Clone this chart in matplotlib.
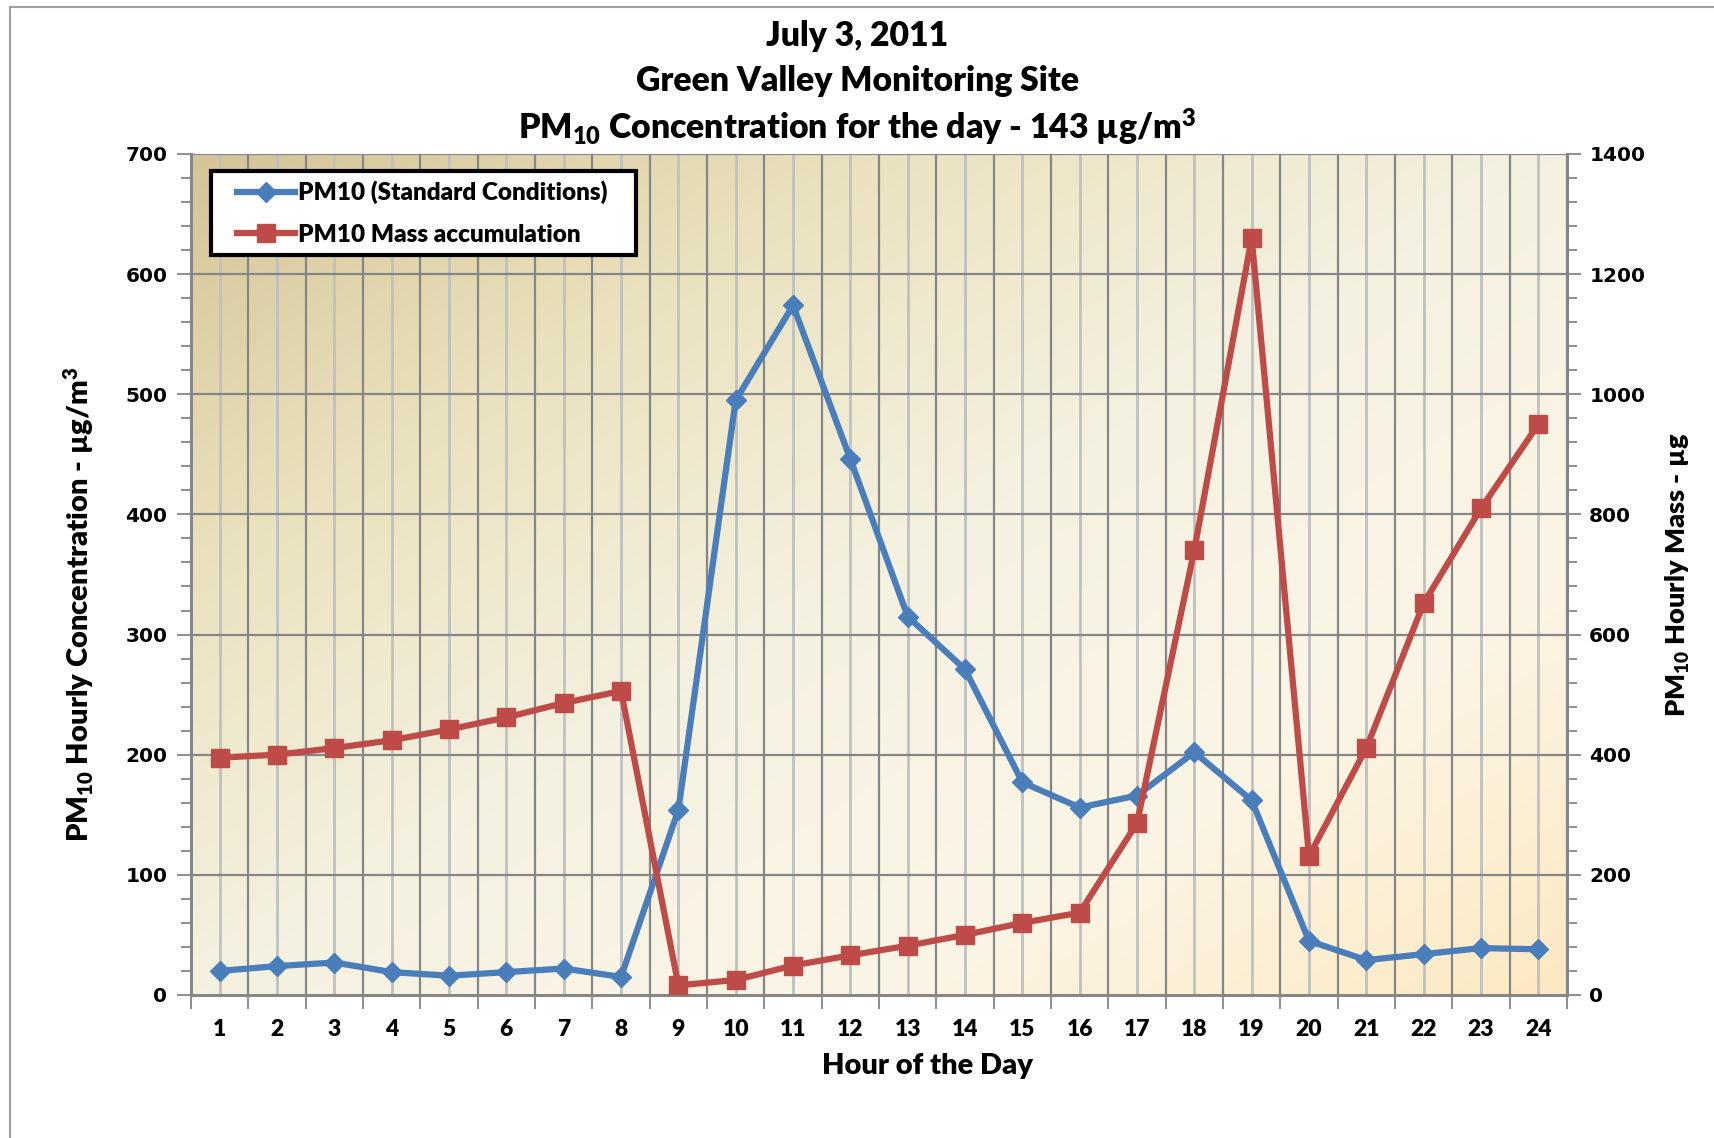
import numpy as np
import matplotlib
matplotlib.use('Agg')
import matplotlib.pyplot as plt
from matplotlib.lines import Line2D
from matplotlib.patches import Rectangle
from matplotlib.legend_handler import HandlerLine2D
from matplotlib.ticker import MultipleLocator, FixedLocator, NullFormatter

hours = list(range(1, 25))
pm10_std = [20, 24, 27, 19, 16, 19, 22, 15, 154, 495, 574, 446, 315, 271,
            177, 156, 166, 202, 162, 45, 29, 34, 39, 38]
pm10_mass = [395, 400, 411, 424, 442, 462, 486, 506, 16, 25, 49, 66, 82, 100,
             120, 137, 286, 741, 1260, 231, 411, 652, 810, 950]

title_lines = ['July 3, 2011', 'Green Valley Monitoring Site',
               'PM$_{10}$ Concentration for the day - 143 µg/m$^{3}$']
series_names = ['PM10 (Standard Conditions)', 'PM10 Mass accumulation']

BLUE = '#4a7ebb'
RED = '#be4b48'
DARK = '#868686'
LIGHT = '#c0c0c0'
W = 'heavy'

plt.rcParams['font.family'] = ['Lato', 'DejaVu Sans']
plt.rcParams['mathtext.fontset'] = 'custom'
plt.rcParams['mathtext.rm'] = 'Lato:heavy'
plt.rcParams['mathtext.it'] = 'Lato:heavy'
plt.rcParams['mathtext.bf'] = 'Lato:heavy'
plt.rcParams['mathtext.default'] = 'rm'

fig = plt.figure(figsize=(17.15, 11.38), dpi=100)
fig.add_artist(Rectangle((10/1715, -0.5), 2, 1.5 - 7/1138, transform=fig.transFigure,
                         fill=False, edgecolor='#a0a0a0', lw=1.5))
ax = fig.add_axes([0.1114, 0.1257, 0.8023, 0.739])
ax2 = ax.twinx()

# gradient background
n = 200
gx, gy = np.meshgrid(np.linspace(0, 1, n), np.linspace(1, 0, n))
t = (gx + (1 - gy)) / 2
stops = [0, 0.25, 0.5, 0.75, 1]
cols = np.array([[212, 196, 150], [234, 226, 190], [245, 241, 225],
                 [251, 245, 230], [253, 233, 193]]) / 255
img = np.dstack([np.interp(t, stops, cols[:, k]) for k in range(3)])
ax.imshow(img, extent=[0.5, 24.5, 0, 700], aspect='auto', zorder=0,
          interpolation='bilinear')

ax.set_xlim(0.5, 24.5)
ax.set_ylim(0, 700)
ax2.set_ylim(0, 1400)

# grid
for x in np.arange(0.5, 25, 1):
    ax.axvline(x, color=DARK, lw=1.6, zorder=1)
for x in hours:
    ax.axvline(x, color=LIGHT, lw=2, zorder=1)
for y in range(100, 701, 100):
    ax.axhline(y, color=DARK, lw=1.6, zorder=1)

ax.plot(hours, pm10_std, color=BLUE, lw=4.5, marker='D', ms=10.5, zorder=3)
ax2.plot(hours, pm10_mass, color=RED, lw=4.5, marker='s', ms=13.5, zorder=3)

# ticks
ax.xaxis.set_major_locator(FixedLocator(np.arange(0.5, 25, 1)))
ax.xaxis.set_major_formatter(NullFormatter())
ax.tick_params(axis='x', which='major', direction='out', length=10, width=1.3, color=DARK)
for h in hours:
    ax.text(h, -0.041, str(h), transform=ax.get_xaxis_transform(), ha='center',
            va='center', fontsize=16.5, fontweight=W)

ax.yaxis.set_major_locator(MultipleLocator(100))
ax.yaxis.set_minor_locator(MultipleLocator(20))
ax.tick_params(axis='y', which='major', direction='out', length=10, width=1.3,
               color=DARK, pad=7)
ax.tick_params(axis='y', which='minor', direction='out', length=7, width=1.3, color=DARK)
ax2.yaxis.set_major_locator(MultipleLocator(200))
ax2.yaxis.set_minor_locator(MultipleLocator(40))
ax2.tick_params(axis='y', which='major', direction='out', length=10, width=1.3,
                color=DARK, pad=6)
ax2.tick_params(axis='y', which='minor', direction='out', length=7, width=1.3, color=DARK)
for lab in ax.get_yticklabels() + ax2.get_yticklabels():
    lab.set_fontfamily('DejaVu Sans')
    lab.set_fontweight('bold')
    lab.set_fontsize(14.5)

for a in (ax, ax2):
    for s in a.spines.values():
        s.set_color(DARK)
        s.set_linewidth(2)
    a.spines['top'].set_visible(False)

ax.set_xlabel('Hour of the Day', fontsize=21, fontweight=W)
ax.xaxis.set_label_coords(0.535, -0.069)
ax.set_ylabel('PM$_{10}$ Hourly Concentration - µg/m$^{3}$', fontsize=21, fontweight=W)
ax.yaxis.set_label_coords(-0.069, 0.465)
ax2.set_ylabel('PM$_{10}$ Hourly Mass - µg', fontsize=19.5, fontweight=W,
               rotation=90)
ax2.yaxis.set_label_coords(1.070, 0.5)

ys = [1 - 36/1138, 1 - 81/1138, 1 - 127/1138]
for line, y in zip(title_lines, ys):
    fig.text(0.5, y, line, ha='center', va='center', fontsize=24.3, fontweight=W)

handles = [Line2D([], [], color=BLUE, lw=4.5, marker='D', ms=10.5),
           Line2D([], [], color=RED, lw=4.5, marker='s', ms=13.5)]
leg = ax2.legend(handles, series_names, loc='upper left',
                 bbox_to_anchor=(0.0145, 0.88, 0.309, 0.1), mode='expand',
                 borderaxespad=0, fancybox=False, framealpha=1, edgecolor='black',
                 prop={'weight': W, 'size': 17.5}, handlelength=3.06,
                 handletextpad=0.1, borderpad=0.4, labelspacing=0.8,
                 handler_map={Line2D: HandlerLine2D(xpad=0.67)})
leg.get_frame().set_linewidth(3)

fig.savefig('out.png', dpi=100)
